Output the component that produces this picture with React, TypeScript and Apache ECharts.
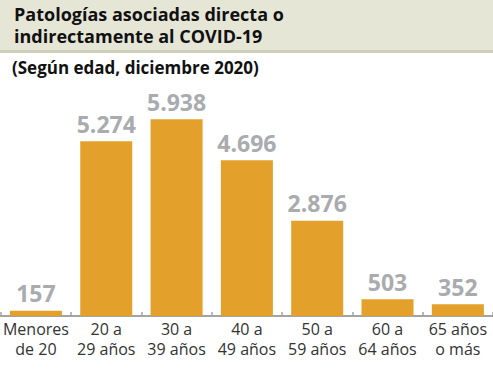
import React, { useEffect, useRef } from "react";
import * as echarts from "echarts";

const categories = ["Menores\nde 20", "20 a\n29 años", "30 a\n39 años", "40 a\n49 años", "50 a\n59 años", "60 a\n64 años", "65 años\no más"];
const values = [157, 5274, 5938, 4696, 2876, 503, 352];
const titleLines = ["Patologías asociadas directa o", "indirectamente al COVID-19"];
const subtitle = "(Según edad, diciembre 2020)";

const fmt = (v: number) => String(v).replace(/\B(?=(\d{3})+(?!\d))/g, ".");

export default function App() {
  const ref = useRef<HTMLDivElement>(null);
  useEffect(() => {
    const chart = echarts.init(ref.current!, null, { renderer: "svg" });
    chart.setOption({
      animation: false,
      backgroundColor: "#ffffff",
      graphic: [
        { type: "rect", left: 0, top: 0, shape: { width: 493, height: 50 }, style: { fill: "#e6e6d7" } },
        { type: "rect", left: 0, top: 50, shape: { width: 493, height: 3 }, style: { fill: "#cfcfbd" } },
        { type: "text", left: 14, top: 5, style: { text: titleLines[0], font: "bold 18px 'Open Sans'", fill: "#111" } },
        { type: "text", left: 14, top: 27, style: { text: titleLines[1], font: "bold 18px 'Open Sans'", fill: "#111" } },
        { type: "text", left: 12, top: 59, style: { text: subtitle, font: "bold 17px 'Open Sans'", fill: "#111" } },
      ],
      grid: { left: 0, right: 0, top: 84, bottom: 61, containLabel: false },
      xAxis: {
        type: "category",
        data: categories,
        axisLine: { lineStyle: { color: "#a3a3a3", width: 2 } },
        axisTick: { show: true, inside: true, length: 4, lineStyle: { color: "#a3a3a3", width: 1.5 } },
        axisLabel: { color: "#333", fontFamily: "Open Sans", fontSize: 16, lineHeight: 20, margin: 3, interval: 0 },
      },
      yAxis: { type: "value", min: 0, max: 7000, show: false, splitLine: { show: false } },
      series: [
        {
          type: "bar",
          data: values,
          barWidth: 52,
          itemStyle: { color: "#e3a02a" },
          label: {
            show: true,
            position: "top",
            distance: 6,
            formatter: (p: any) => fmt(p.value),
            color: "#a9abae",
            fontFamily: "Open Sans",
            fontWeight: "bold",
            fontSize: 23,
          },
        },
      ],
    });
    return () => chart.dispose();
  }, []);
  return <div ref={ref} style={{ width: 493, height: 377, position: "absolute", left: 0, top: 0 }} />;
}
